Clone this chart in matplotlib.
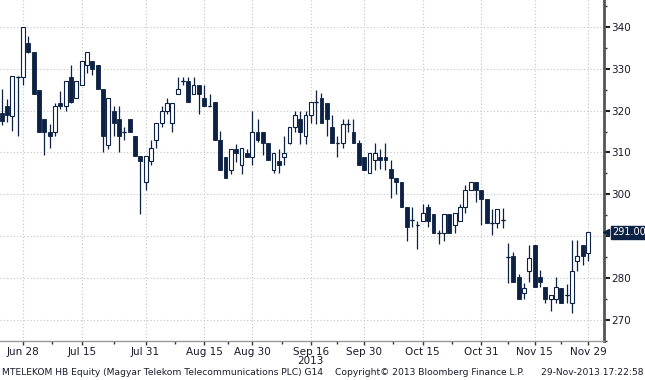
import matplotlib
matplotlib.use('Agg')
import matplotlib.pyplot as plt
import matplotlib.transforms as mtransforms
import numpy as np

# daily OHLC, MTELEKOM HB, trading days from Jun 24 to Nov 29 2013
opens = [319.5, 321.1, 318.7, 328.0, 328.0, 336.1, 334.0, 324.9, 318.0, 315.0,
         315.0, 321.9, 321.0, 328.0, 322.9, 326.0, 331.0, 331.9, 331.0, 325.1,
         311.9, 319.9, 318.0, 315.0, 318.0, 314.0, 309.1, 303.0, 307.9, 313.1,
         317.0, 319.9, 317.0, 323.9, 327.0, 327.0, 323.9, 326.0, 322.9, 321.0,
         322.1, 313.1, 309.0, 305.9, 310.9, 307.0, 309.9, 308.9, 315.0, 315.0,
         312.2, 305.8, 307.9, 309.0, 312.2, 316.0, 318.0, 314.0, 319.0, 322.1,
         322.9, 321.9, 316.0, 312.2, 312.2, 316.8, 315.0, 312.2, 309.0, 305.0,
         308.1, 309.0, 309.0, 306.0, 304.0, 303.0, 296.9, 294.0, 292.8, 293.6,
         296.9, 295.2, 290.9, 290.9, 295.2, 292.8, 293.6, 296.9, 301.0, 303.0,
         301.0, 298.9, 293.1, 293.1, 293.9, 285.1, 285.3, 280.2, 276.5, 281.8,
         287.9, 280.2, 277.9, 275.0, 275.0, 277.7, 276.0, 274.0, 284.1, 287.9,
         286.0]
highs = [325.1, 322.7, 328.2, 328.2, 340.0, 337.9, 334.0, 324.9, 318.0, 316.8,
         321.9, 324.7, 327.0, 331.0, 327.0, 331.9, 334.0, 331.9, 331.0, 325.1,
         322.9, 321.0, 321.0, 316.0, 318.0, 314.0, 309.1, 309.1, 313.1, 317.0,
         321.0, 322.9, 321.9, 328.0, 328.0, 328.0, 328.0, 326.0, 326.0, 323.9,
         322.1, 315.2, 309.0, 310.9, 312.0, 311.1, 310.9, 319.9, 318.0, 315.0,
         312.2, 309.9, 310.9, 314.0, 316.0, 319.9, 319.9, 319.9, 322.1, 325.0,
         324.3, 321.9, 319.0, 314.0, 318.0, 318.0, 318.0, 313.1, 309.0, 309.9,
         312.2, 310.9, 312.2, 308.2, 304.0, 303.0, 296.9, 296.9, 293.6, 297.6,
         297.6, 295.2, 291.5, 295.2, 295.2, 295.6, 297.6, 302.2, 303.0, 303.0,
         301.0, 298.9, 296.4, 296.4, 296.8, 288.3, 286.3, 281.0, 278.9, 287.9,
         287.9, 282.0, 277.9, 276.0, 280.2, 277.7, 278.6, 289.2, 289.2, 287.9,
         291.0]
lows = [316.5, 317.3, 315.2, 314.0, 326.0, 333.8, 323.9, 315.0, 309.3, 311.1,
        314.0, 320.3, 319.9, 321.9, 322.9, 326.0, 328.9, 328.5, 325.1, 310.1,
        310.9, 314.0, 310.1, 313.1, 315.0, 309.1, 295.2, 301.0, 306.9, 311.1,
        316.0, 319.1, 315.0, 323.9, 326.0, 322.1, 323.9, 319.1, 321.0, 321.0,
        313.1, 305.9, 303.9, 304.9, 307.7, 304.9, 309.0, 307.0, 312.4, 309.4,
        308.1, 305.0, 305.0, 307.0, 312.0, 315.0, 312.0, 312.0, 317.0, 316.8,
        317.0, 314.0, 312.2, 309.0, 311.1, 315.0, 312.2, 306.9, 305.9, 305.0,
        305.9, 306.0, 305.9, 299.2, 300.2, 296.9, 288.9, 292.1, 286.9, 293.6,
        292.1, 290.9, 288.2, 288.8, 290.9, 290.9, 293.6, 295.6, 301.0, 298.2,
        292.8, 293.1, 290.3, 291.9, 291.9, 278.8, 279.0, 275.0, 275.0, 279.0,
        277.9, 277.9, 274.1, 272.2, 274.0, 274.0, 274.0, 271.7, 281.8, 283.2,
        284.0]
closes = [317.6, 318.9, 328.2, 328.0, 340.0, 334.0, 323.9, 315.0, 315.0, 314.0,
          321.0, 321.0, 327.0, 322.1, 327.0, 331.9, 334.0, 330.0, 325.1, 314.0,
          322.9, 317.0, 314.0, 315.0, 315.0, 309.1, 307.9, 309.1, 311.0, 317.0,
          319.9, 321.9, 321.9, 325.1, 327.0, 322.1, 326.0, 323.9, 321.0, 321.0,
          313.1, 305.9, 303.9, 310.9, 309.9, 311.1, 309.0, 315.0, 313.1, 312.2,
          308.1, 309.9, 306.9, 309.9, 316.0, 319.0, 314.9, 319.0, 322.1, 322.1,
          317.0, 318.0, 312.2, 312.2, 316.8, 316.8, 312.2, 306.9, 305.9, 309.9,
          309.9, 308.1, 308.1, 304.0, 303.0, 296.9, 292.1, 294.0, 292.8, 295.6,
          293.6, 290.9, 290.9, 295.2, 290.9, 295.6, 296.9, 301.0, 303.0, 301.0,
          298.9, 293.1, 293.1, 296.4, 293.9, 285.1, 279.0, 275.0, 277.7, 284.9,
          277.9, 279.0, 275.0, 276.0, 277.9, 274.0, 276.0, 281.8, 285.3, 285.3,
          291.0]

first_day = -4  # Jun 28 is day 0
tick_days = [0, 11, 23, 34, 43, 54, 64, 75, 86, 96, 106]
tick_labels = ['Jun 28', 'Jul 15', 'Jul 31', 'Aug 15', 'Aug 30', 'Sep 16',
               'Sep 30', 'Oct 15', 'Oct 31', 'Nov 15', 'Nov 29']
y_ticks = [270, 280, 290, 300, 310, 320, 330, 340]
last_price = closes[-1]

navy = '#0c2143'
o = np.array(opens)
h = np.array(highs)
l = np.array(lows)
c = np.array(closes)
x = np.arange(len(o)) + first_day

fig = plt.figure(figsize=(6.45, 3.80), dpi=100)
ax = fig.add_axes([0.0, 0.1026, 0.9364, 0.8974])

ax.set_axisbelow(True)
ax.grid(True, which='major', linestyle=(0, (1, 2)), color='#c4c4c4', linewidth=0.8)

up = c >= o
w = 0.72
ax.vlines(x, l, h, color=navy, linewidth=0.9, zorder=2)
body_lo = np.minimum(o, c)
body_h = np.abs(c - o)
ax.bar(x[~up], body_h[~up], bottom=body_lo[~up], width=w, color=navy,
       edgecolor=navy, linewidth=0.6, zorder=3)
ax.bar(x[up], body_h[up], bottom=body_lo[up], width=w, color='white',
       edgecolor=navy, linewidth=0.8, zorder=3)
doji = body_h == 0
ax.hlines(o[doji], x[doji] - w / 2, x[doji] + w / 2, color=navy, linewidth=0.9, zorder=3)

ax.set_xlim(-4.32, 109.0)
ax.set_ylim(265.6, 346.4)

ax.set_xticks(tick_days)
ax.set_xticklabels(tick_labels)
ax.set_xticks([(a + b) / 2 for a, b in zip(tick_days[:-1], tick_days[1:])], minor=True)
ax.set_yticks(y_ticks)
ax.set_yticks(np.arange(265, 346, 5), minor=True)
ax.yaxis.tick_right()

ax.tick_params(axis='x', which='major', direction='out', length=3, width=1,
               color='#333333', labelsize=7.5, labelcolor='#1a1a2e', pad=1)
ax.tick_params(axis='x', which='minor', direction='out', length=2, width=1, color='#333333')
ax.tick_params(axis='y', which='major', direction='out', length=4, width=1.5,
               color='#222222', labelsize=7.5, labelcolor='#1a1a2e', pad=1)
ax.tick_params(axis='y', which='minor', direction='out', length=2.5, width=1, color='#333333')

for s in ['top', 'left']:
    ax.spines[s].set_visible(False)
ax.spines['right'].set_color('#555555')
ax.spines['right'].set_linewidth(2)
ax.spines['bottom'].set_color('#999999')
ax.spines['bottom'].set_linewidth(1)

# year under Sep 16
trans = mtransforms.blended_transform_factory(ax.transData, ax.transAxes)
ax.text(tick_days[5], -0.043, '2013', transform=trans, ha='center', va='top',
        fontsize=7.5, color='#1a1a2e')

# last price tag
trans2 = mtransforms.blended_transform_factory(ax.transAxes, ax.transData)
ax.plot([1.004], [last_price], marker='<', markersize=5, color=navy,
        transform=trans2, clip_on=False, zorder=6)
ax.text(1.014, last_price, '%.2f' % last_price, transform=trans2, ha='left',
        va='center', fontsize=7, color='white', zorder=7,
        bbox=dict(boxstyle='square,pad=0.15', fc=navy, ec=navy))

fig.text(0.003, 0.019, 'MTELEKOM HB Equity (Magyar Telekom Telecommunications PLC) G14',
         fontsize=6.6, color='#1a1a2e', ha='left', va='center')
fig.text(0.52, 0.019, 'Copyright\u00a9 2013 Bloomberg Finance L.P.',
         fontsize=6.6, color='#1a1a2e', ha='left', va='center')
fig.text(0.997, 0.019, '29-Nov-2013 17:22:58',
         fontsize=6.6, color='#1a1a2e', ha='right', va='center')

fig.savefig('out.png', dpi=100)
